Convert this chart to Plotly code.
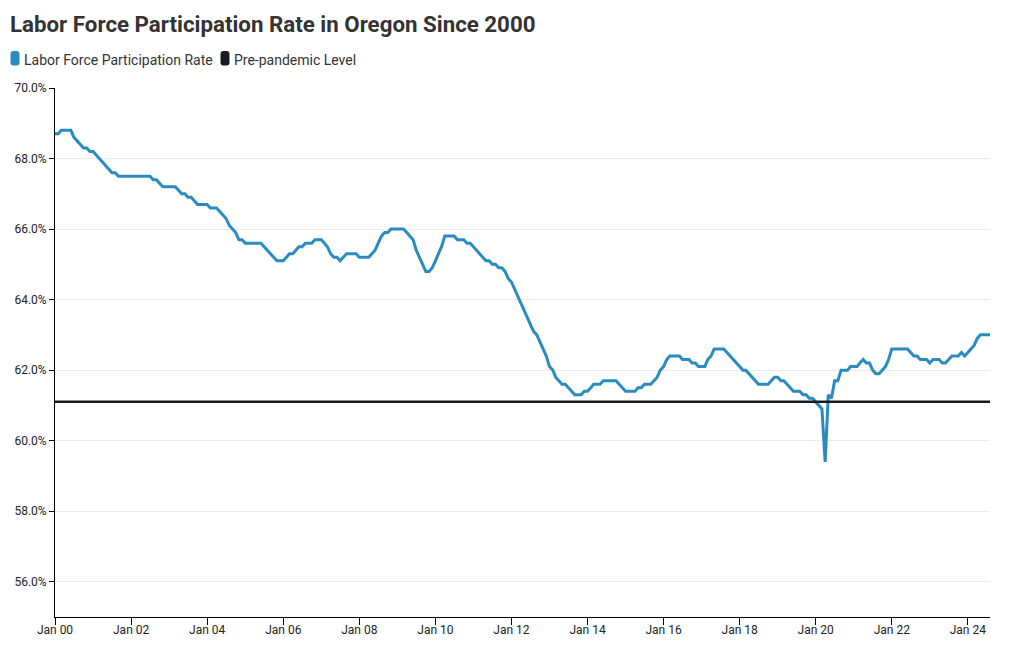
import plotly.graph_objects as go
import pandas as pd

# Monthly labor force participation rate, Oregon, Jan 2000 - Aug 2024 (percent)
lfpr_2000 = [68.7, 68.7, 68.8, 68.8, 68.8, 68.8, 68.6, 68.5, 68.4, 68.3, 68.3, 68.2]
lfpr_2001 = [68.2, 68.1, 68.0, 67.9, 67.8, 67.7, 67.6, 67.6, 67.5, 67.5, 67.5, 67.5]
lfpr_2002 = [67.5, 67.5, 67.5, 67.5, 67.5, 67.5, 67.5, 67.4, 67.4, 67.3, 67.2, 67.2]
lfpr_2003 = [67.2, 67.2, 67.2, 67.1, 67.0, 67.0, 66.9, 66.9, 66.8, 66.7, 66.7, 66.7]
lfpr_2004 = [66.7, 66.6, 66.6, 66.6, 66.5, 66.4, 66.3, 66.1, 66.0, 65.9, 65.7, 65.7]
lfpr_2005 = [65.6, 65.6, 65.6, 65.6, 65.6, 65.6, 65.5, 65.4, 65.3, 65.2, 65.1, 65.1]
lfpr_2006 = [65.1, 65.2, 65.3, 65.3, 65.4, 65.5, 65.5, 65.6, 65.6, 65.6, 65.7, 65.7]
lfpr_2007 = [65.7, 65.6, 65.5, 65.3, 65.2, 65.2, 65.1, 65.2, 65.3, 65.3, 65.3, 65.3]
lfpr_2008 = [65.2, 65.2, 65.2, 65.2, 65.3, 65.4, 65.6, 65.8, 65.9, 65.9, 66.0, 66.0]
lfpr_2009 = [66.0, 66.0, 66.0, 65.9, 65.8, 65.7, 65.4, 65.2, 65.0, 64.8, 64.8, 64.9]
lfpr_2010 = [65.1, 65.3, 65.5, 65.8, 65.8, 65.8, 65.8, 65.7, 65.7, 65.7, 65.6, 65.6]
lfpr_2011 = [65.5, 65.4, 65.3, 65.2, 65.1, 65.1, 65.0, 65.0, 64.9, 64.9, 64.8, 64.6]
lfpr_2012 = [64.5, 64.3, 64.1, 63.9, 63.7, 63.5, 63.3, 63.1, 63.0, 62.8, 62.6, 62.4]
lfpr_2013 = [62.1, 62.0, 61.8, 61.7, 61.6, 61.6, 61.5, 61.4, 61.3, 61.3, 61.3, 61.4]
lfpr_2014 = [61.4, 61.5, 61.6, 61.6, 61.6, 61.7, 61.7, 61.7, 61.7, 61.7, 61.6, 61.5]
lfpr_2015 = [61.4, 61.4, 61.4, 61.4, 61.5, 61.5, 61.6, 61.6, 61.6, 61.7, 61.8, 62.0]
lfpr_2016 = [62.1, 62.3, 62.4, 62.4, 62.4, 62.4, 62.3, 62.3, 62.3, 62.2, 62.2, 62.1]
lfpr_2017 = [62.1, 62.1, 62.3, 62.4, 62.6, 62.6, 62.6, 62.6, 62.5, 62.4, 62.3, 62.2]
lfpr_2018 = [62.1, 62.0, 62.0, 61.9, 61.8, 61.7, 61.6, 61.6, 61.6, 61.6, 61.7, 61.8]
lfpr_2019 = [61.8, 61.7, 61.7, 61.6, 61.5, 61.4, 61.4, 61.4, 61.3, 61.3, 61.2, 61.2]
lfpr_2020 = [61.1, 61.0, 60.9, 59.4, 61.3, 61.2, 61.7, 61.7, 62.0, 62.0, 62.0, 62.1]
lfpr_2021 = [62.1, 62.1, 62.2, 62.3, 62.2, 62.2, 62.0, 61.9, 61.9, 62.0, 62.1, 62.3]
lfpr_2022 = [62.6, 62.6, 62.6, 62.6, 62.6, 62.6, 62.5, 62.4, 62.4, 62.3, 62.3, 62.3]
lfpr_2023 = [62.2, 62.3, 62.3, 62.3, 62.2, 62.2, 62.3, 62.4, 62.4, 62.4, 62.5, 62.4]
lfpr_2024 = [62.5, 62.6, 62.7, 62.9, 63.0, 63.0, 63.0, 63.0]

pre_pandemic_level = 61.1

series_names = ["Labor Force Participation Rate", "Pre-pandemic Level"]
y_ticks = [56, 58, 60, 62, 64, 66, 68, 70]

lfpr = (lfpr_2000 + lfpr_2001 + lfpr_2002 + lfpr_2003 + lfpr_2004 + lfpr_2005 +
        lfpr_2006 + lfpr_2007 + lfpr_2008 + lfpr_2009 + lfpr_2010 + lfpr_2011 +
        lfpr_2012 + lfpr_2013 + lfpr_2014 + lfpr_2015 + lfpr_2016 + lfpr_2017 +
        lfpr_2018 + lfpr_2019 + lfpr_2020 + lfpr_2021 + lfpr_2022 + lfpr_2023 +
        lfpr_2024)
dates = pd.date_range("2000-01-01", periods=len(lfpr), freq="MS")

BLUE = "#2a8bc1"
BLACK = "#161b1f"
FONT = "Roboto"

W, H = 1020, 650
ML, MR, MT, MB = 55, 30, 88, 33
PW, PH = W - ML - MR, H - MT - MB


def px_x(p):
    return (p - ML) / PW


def px_y(p):
    return (H - MB - p) / PH


def rounded_rect(x0, y0, x1, y1, r):
    pts = [
        f"M {px_x(x0 + r)},{px_y(y0)}",
        f"L {px_x(x1 - r)},{px_y(y0)}",
        f"Q {px_x(x1)},{px_y(y0)} {px_x(x1)},{px_y(y0 + r)}",
        f"L {px_x(x1)},{px_y(y1 - r)}",
        f"Q {px_x(x1)},{px_y(y1)} {px_x(x1 - r)},{px_y(y1)}",
        f"L {px_x(x0 + r)},{px_y(y1)}",
        f"Q {px_x(x0)},{px_y(y1)} {px_x(x0)},{px_y(y1 - r)}",
        f"L {px_x(x0)},{px_y(y0 + r)}",
        f"Q {px_x(x0)},{px_y(y0)} {px_x(x0 + r)},{px_y(y0)}",
        "Z",
    ]
    return " ".join(pts)


fig = go.Figure()
fig.add_trace(go.Scatter(x=dates, y=lfpr, mode="lines", name=series_names[0],
                         line=dict(color=BLUE, width=3), showlegend=False))
fig.add_trace(go.Scatter(x=[dates[0], dates[-1]], y=[pre_pandemic_level] * 2,
                         mode="lines", name=series_names[1],
                         line=dict(color=BLACK, width=2.5), showlegend=False))

# legend drawn as swatches + text
legend_items = [(series_names[0], BLUE, 10.5, 21.5), (series_names[1], BLACK, 220.5, 231.5)]
shapes = []
annotations = []
for name, col, sx, tx in legend_items:
    shapes.append(dict(type="path", xref="paper", yref="paper",
                       path=rounded_rect(sx, 51, sx + 9, 65.5, 3),
                       fillcolor=col, line=dict(width=0)))
    annotations.append(dict(text=name, xref="paper", yref="paper",
                            x=px_x(tx), y=px_y(59.5), xanchor="left", yanchor="middle",
                            showarrow=False,
                            font=dict(family=FONT, size=14, color="#333333")))

fig.update_layout(
    width=W, height=H,
    margin=dict(l=ML, r=MR, t=MT, b=MB),
    paper_bgcolor="white", plot_bgcolor="white",
    font=dict(family=FONT, size=12, color="#222"),
    title=dict(text="<b>Labor Force Participation Rate in Oregon Since 2000</b>",
               x=10 / W, xanchor="left", y=1 - 24 / H, yanchor="middle",
               font=dict(family=FONT, size=22.3, color="#333333")),
    showlegend=False,
    shapes=shapes,
    annotations=annotations,
)
fig.update_xaxes(range=[dates[0], dates[-1]], dtick="M24", tick0="2000-01-01",
                 tickformat="%b %y", showgrid=False, showline=True,
                 linecolor="black", linewidth=1, ticks="outside", ticklen=7,
                 ticklabelstandoff=-5,
                 tickcolor="black", tickfont=dict(size=12, color="#222"),
                 zeroline=False)
fig.update_yaxes(range=[55, 70], tickvals=y_ticks,
                 ticktext=[f"{v:.1f}%" for v in y_ticks],
                 showgrid=True, gridcolor="#ebebeb", gridwidth=1,
                 showline=True, linecolor="black", linewidth=1,
                 ticks="outside", ticklen=5, tickcolor="black",
                 tickfont=dict(size=12, color="#222"), zeroline=False)

fig.write_html("out.html")
